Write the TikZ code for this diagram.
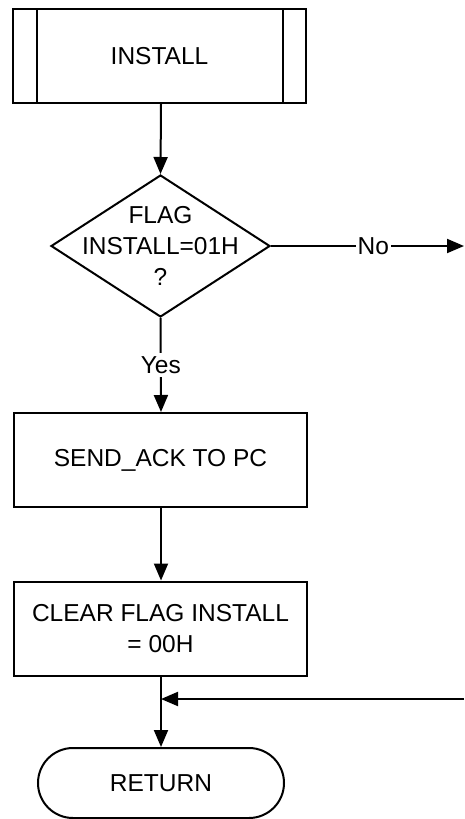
\documentclass[tikz,border=0pt]{standalone}
\usepackage{fontspec}
\setmainfont{Liberation Sans}
\usetikzlibrary{shapes.geometric,arrows.meta}
\begin{document}
\begin{tikzpicture}[x=1pt,y=-1pt,line width=2pt,
  every node/.style={font=\fontsize{24.5}{31}\selectfont,align=center,inner sep=0pt},
  box/.style={draw,rectangle,minimum width=293pt,minimum height=94pt},
  arr/.style={-{Triangle[length=17pt,width=14pt]}},
  lbl/.style={fill=white,inner sep=3pt}]
\useasboundingbox (0,0) rectangle (464,819);

% main flow axis
\coordinate (axis) at (161,0);

% predefined process: INSTALL
\node[box] (install) at (159.5,56) {INSTALL};
\draw ([xshift=25pt]install.north west) -- ([xshift=25pt]install.south west);
\draw ([xshift=-24pt]install.north east) -- ([xshift=-24pt]install.south east);

% decision
\node[draw,diamond,minimum width=219pt,minimum height=142pt] (dec) at (160.5,246) {};
\node (dectext) at (dec.center) {FLAG\\INSTALL=01H\\?};

% process boxes
\node[box] (send) at (160.5,460) {SEND\_ACK TO PC};
\node[box] (clear) at (160.5,628.5) {CLEAR FLAG INSTALL\\= 00H};

% terminator
\node[draw,rounded corners=35pt,minimum width=246pt,minimum height=70pt] (ret) at (161,783) {RETURN};

% off-page ends of the "No" branch
\coordinate (noend) at (464,246);
\coordinate (joinR) at (464,699);
\coordinate (join) at (161,699);

% connectors
\draw[arr] (install.south -| axis) -- (dec.north);
\draw[arr] (dec.south) -- (send.north -| axis) node[lbl,pos=0.5] {Yes};
\draw[arr] (dec.east) -- (noend) node[lbl,pos=0.53,inner sep=2pt] {No};
\draw[arr] (send.south -| axis) -- (clear.north -| axis);
\draw[arr] (clear.south -| axis) -- (ret.north);
\draw[arr] (joinR) -- (join);
\end{tikzpicture}
\end{document}
